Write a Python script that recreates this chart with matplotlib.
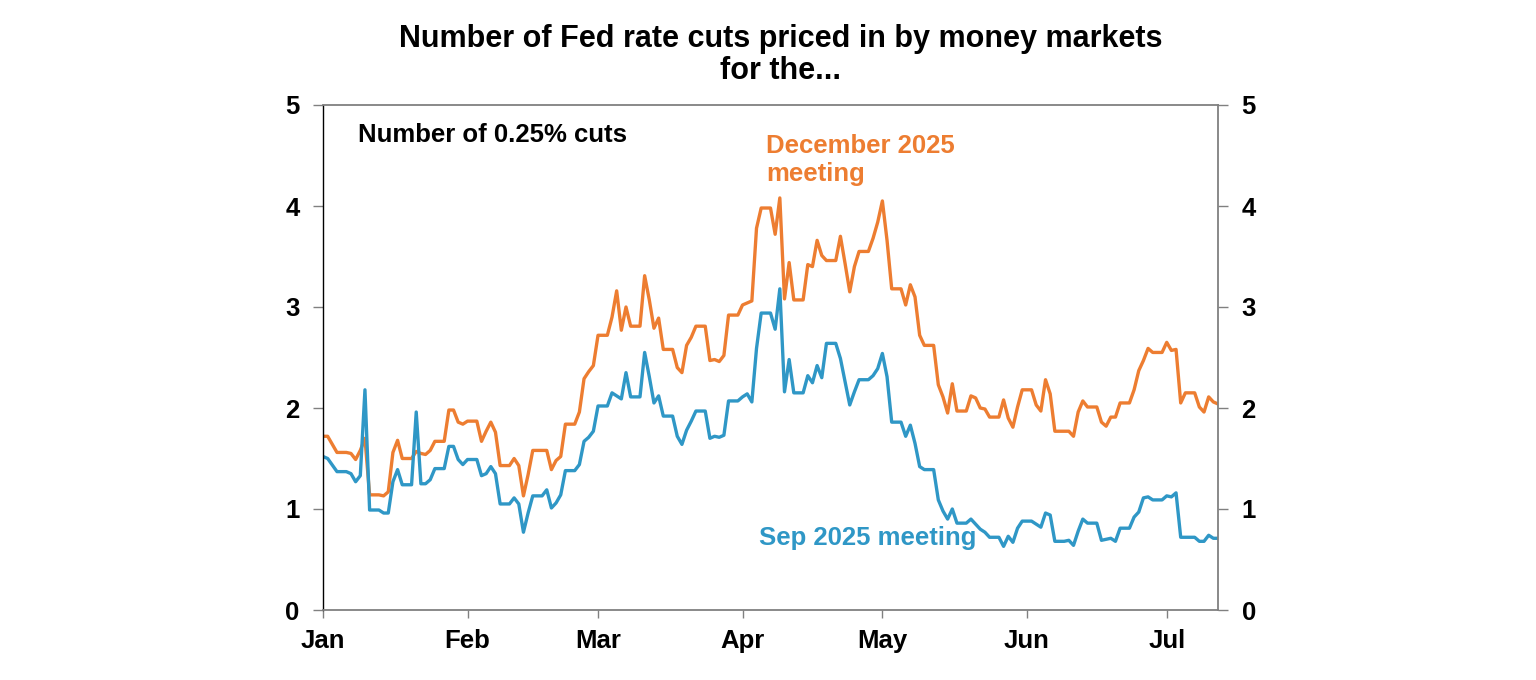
import matplotlib
matplotlib.use("Agg")
import matplotlib.pyplot as plt
import pandas as pd

plt.rcParams['font.family'] = ['Liberation Sans', 'DejaVu Sans']

# days since 1 Jan 2025
sep_days = [0, 1, 3, 5, 6, 7, 8, 9, 10, 12, 13, 14, 15, 16, 17, 19, 20, 21, 22, 23, 24, 26, 27, 28, 29, 30,
            31, 33, 34, 35, 36, 37, 38, 40, 41, 42, 43, 44, 45, 47, 48, 49, 50, 51, 52, 54, 55, 56, 57, 58,
            59, 61, 62, 63, 64, 65, 66, 68, 69, 70, 71, 72, 73, 75, 76, 77, 78, 79, 80, 82, 83, 84, 85, 86,
            87, 89, 90, 91, 92, 93, 94, 96, 97, 98, 99, 100, 101, 103, 104, 105, 106, 107, 108, 110, 111,
            112, 113, 114, 115, 117, 118, 119, 120, 121, 122, 124, 125, 126, 127, 128, 129, 131, 132, 133,
            134, 135, 136, 138, 139, 140, 141, 142, 143, 145, 146, 147, 148, 149, 150, 152, 153, 154, 155,
            156, 157, 159, 160, 161, 162, 163, 164, 166, 167, 169, 170, 171, 173, 174, 175, 176, 177, 178,
            180, 181, 182, 183, 184, 187, 188, 189, 190, 191, 192]
sep_cuts = [1.52, 1.50, 1.37, 1.37, 1.35, 1.27, 1.33, 2.18, 0.99, 0.99, 0.96, 0.96, 1.27, 1.39, 1.24, 1.24,
            1.96, 1.25, 1.25, 1.29, 1.40, 1.40, 1.62, 1.62, 1.49, 1.44, 1.49, 1.49, 1.33, 1.35, 1.42, 1.35,
            1.05, 1.05, 1.11, 1.05, 0.77, 0.96, 1.13, 1.13, 1.19, 1.01, 1.06, 1.14, 1.38, 1.38, 1.44, 1.67,
            1.71, 1.77, 2.02, 2.02, 2.15, 2.12, 2.09, 2.35, 2.11, 2.11, 2.55, 2.31, 2.05, 2.12, 1.92, 1.92,
            1.72, 1.64, 1.78, 1.87, 1.97, 1.97, 1.70, 1.72, 1.71, 1.73, 2.07, 2.07, 2.11, 2.14, 2.06, 2.59,
            2.94, 2.94, 2.78, 3.18, 2.16, 2.48, 2.15, 2.15, 2.32, 2.25, 2.42, 2.30, 2.64, 2.64, 2.49, 2.26,
            2.03, 2.16, 2.28, 2.28, 2.32, 2.39, 2.54, 2.31, 1.86, 1.86, 1.72, 1.83, 1.65, 1.42, 1.39, 1.39,
            1.09, 0.98, 0.90, 1.00, 0.86, 0.86, 0.90, 0.85, 0.80, 0.77, 0.72, 0.72, 0.63, 0.73, 0.67, 0.81,
            0.88, 0.88, 0.85, 0.82, 0.96, 0.94, 0.68, 0.68, 0.69, 0.64, 0.78, 0.90, 0.86, 0.86, 0.69, 0.71,
            0.68, 0.81, 0.81, 0.92, 0.97, 1.11, 1.12, 1.09, 1.09, 1.13, 1.12, 1.16, 0.72, 0.72, 0.68, 0.68,
            0.74, 0.71, 0.71]

dec_days = [0, 1, 3, 5, 6, 7, 8, 9, 10, 12, 13, 14, 15, 16, 17, 19, 20, 21, 22, 23, 24, 26, 27, 28, 29, 30,
            31, 33, 34, 35, 36, 37, 38, 40, 41, 42, 43, 44, 45, 47, 48, 49, 50, 51, 52, 54, 55, 56, 57, 58,
            59, 61, 62, 63, 64, 65, 66, 68, 69, 70, 71, 72, 73, 75, 76, 77, 78, 79, 80, 82, 83, 84, 85, 86,
            87, 89, 90, 91, 92, 93, 94, 96, 97, 98, 99, 100, 101, 103, 104, 105, 106, 107, 108, 110, 111,
            112, 113, 114, 115, 117, 118, 119, 120, 121, 122, 124, 125, 126, 127, 128, 129, 131, 132, 133,
            134, 135, 136, 138, 139, 140, 141, 142, 143, 145, 146, 147, 148, 149, 150, 152, 153, 154, 155,
            156, 157, 159, 160, 161, 162, 163, 164, 166, 167, 168, 169, 170, 171, 173, 174, 175, 176, 177,
            178, 180, 181, 182, 183, 184, 185, 187, 188, 189, 190, 191, 192]
dec_cuts = [1.72, 1.72, 1.56, 1.56, 1.55, 1.49, 1.58, 1.70, 1.14, 1.14, 1.13, 1.17, 1.56, 1.68, 1.50, 1.50,
            1.57, 1.55, 1.54, 1.58, 1.67, 1.67, 1.98, 1.98, 1.86, 1.84, 1.87, 1.87, 1.67, 1.77, 1.86, 1.76,
            1.43, 1.43, 1.50, 1.43, 1.13, 1.34, 1.58, 1.58, 1.58, 1.39, 1.48, 1.52, 1.84, 1.84, 1.96, 2.29,
            2.36, 2.42, 2.72, 2.72, 2.90, 3.16, 2.77, 3.00, 2.81, 2.81, 3.31, 3.07, 2.79, 2.89, 2.58, 2.58,
            2.40, 2.35, 2.62, 2.70, 2.81, 2.81, 2.47, 2.48, 2.46, 2.52, 2.92, 2.92, 3.02, 3.04, 3.06, 3.78,
            3.98, 3.98, 3.72, 4.08, 3.08, 3.44, 3.07, 3.07, 3.42, 3.40, 3.66, 3.51, 3.46, 3.46, 3.70, 3.43,
            3.15, 3.40, 3.55, 3.55, 3.68, 3.84, 4.05, 3.66, 3.18, 3.18, 3.02, 3.22, 3.10, 2.72, 2.62, 2.62,
            2.23, 2.11, 1.95, 2.24, 1.97, 1.97, 2.12, 2.10, 2.00, 1.99, 1.91, 1.91, 2.08, 1.90, 1.81, 2.01,
            2.18, 2.18, 2.03, 1.97, 2.28, 2.14, 1.77, 1.77, 1.77, 1.72, 1.96, 2.07, 2.01, 2.01, 1.86, 1.82,
            1.91, 1.91, 2.05, 2.05, 2.18, 2.37, 2.47, 2.59, 2.55, 2.55, 2.65, 2.57, 2.58, 2.05, 2.15, 2.15,
            2.01, 1.96, 2.11, 2.06, 2.04]

month_labels = ['Jan', 'Feb', 'Mar', 'Apr', 'May', 'Jun', 'Jul']
y_ticks = [0, 1, 2, 3, 4, 5]

start = pd.Timestamp('2025-01-01')
sep_dates = start + pd.to_timedelta(sep_days, unit='D')
dec_dates = start + pd.to_timedelta(dec_days, unit='D')

ORANGE = '#ED7D31'
BLUE = '#2F97C6'
FS = 18.5

fig = plt.figure(figsize=(15.36, 6.8), dpi=100)
ax = fig.add_axes([323 / 1536, 1 - 610 / 680, (1218 - 323) / 1536, (610 - 105) / 680])

ax.plot(dec_dates, dec_cuts, color=ORANGE, lw=2.4, solid_joinstyle='round')
ax.plot(sep_dates, sep_cuts, color=BLUE, lw=2.4, solid_joinstyle='round')

ax.set_ylim(0, 5)
ax.set_xlim(start, start + pd.Timedelta(days=192))

month_starts = pd.date_range('2025-01-01', periods=len(month_labels), freq='MS')
ax.set_xticks(month_starts)
ax.set_xticklabels(month_labels)
ax.set_yticks(y_ticks)
ax.set_yticklabels([str(v) for v in y_ticks])

ax.tick_params(axis='x', direction='out', length=6, width=1, color='#808080', pad=8,
               labelsize=FS)
ax.tick_params(axis='y', direction='out', length=7, width=1, color='#808080', pad=10,
               labelsize=FS, right=True, labelright=True)
for lab in ax.get_xticklabels() + ax.get_yticklabels():
    lab.set_fontweight('bold')
for t in ax.yaxis.get_major_ticks():
    t.label2.set_fontweight('bold')
    t.label2.set_fontsize(FS)

ax.spines['left'].set_color('black')
ax.spines['left'].set_linewidth(1)
for s in ['bottom', 'top', 'right']:
    ax.spines[s].set_color('#808080')
    ax.spines[s].set_linewidth(1.3)

fig.text(0.508, 0.964, 'Number of Fed rate cuts priced in by money markets\nfor the...',
         ha='center', va='top', fontsize=22, fontweight='bold', linespacing=1.08)

ax.text(0.039, 0.941, 'Number of 0.25% cuts', transform=ax.transAxes, ha='left', va='center',
        fontsize=FS, fontweight='bold')
ax.text(0.495, 0.943, 'December 2025\nmeeting', transform=ax.transAxes, ha='left', va='top',
        fontsize=FS, fontweight='bold', color=ORANGE, linespacing=1.2)
ax.text(0.487, 0.143, 'Sep 2025 meeting', transform=ax.transAxes, ha='left', va='center',
        fontsize=FS, fontweight='bold', color=BLUE)

fig.savefig('out.png', dpi=100)
